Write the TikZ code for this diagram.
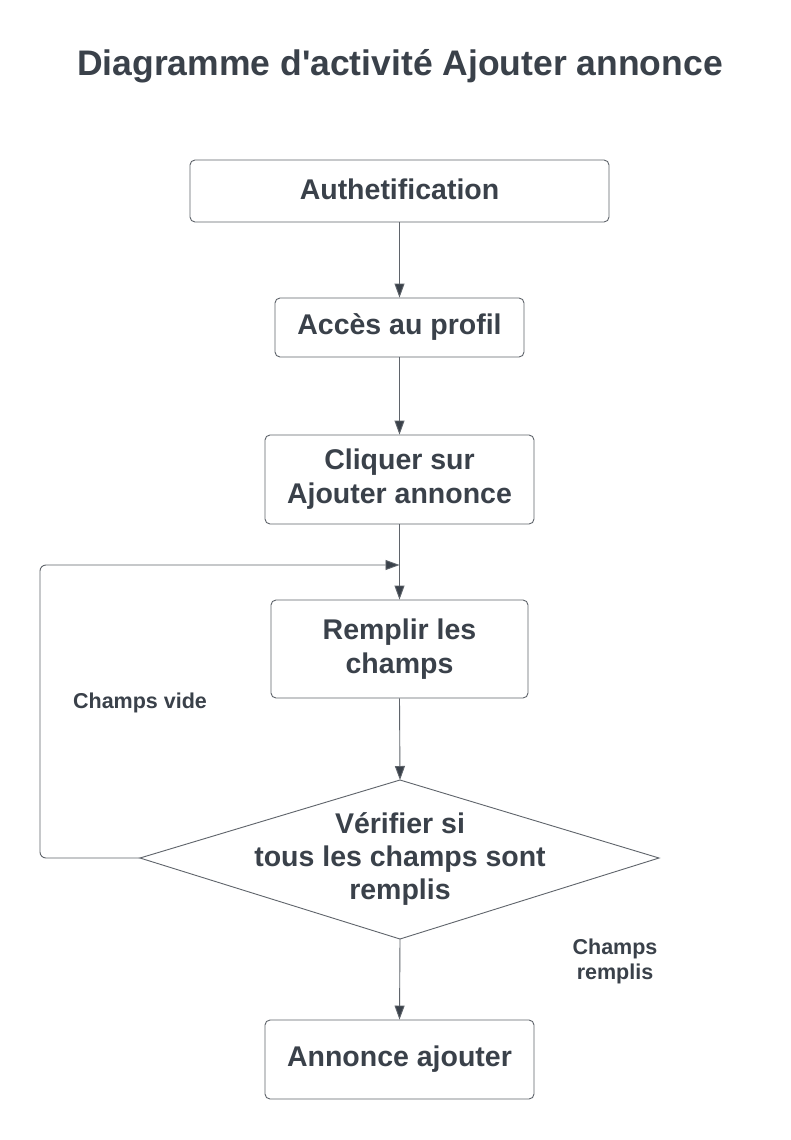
\documentclass[tikz,border=0pt]{standalone}
\usepackage{fontspec}
\setmainfont{Liberation Sans}
\usetikzlibrary{arrows.meta}
\definecolor{txt}{HTML}{3A414A}
\definecolor{ln}{HTML}{5F646B}
\tikzset{
  act/.style={draw=ln, line width=0.9pt, rounded corners=5pt, fill=white, text=txt, font=\bfseries\fontsize{28.5}{34}\selectfont, align=center, inner sep=0pt},
  conn/.style={draw=ln, line width=0.9pt, -{Triangle[length=14pt,width=10pt,fill=txt]}},
  lbl/.style={text=txt, font=\bfseries\fontsize{21.5}{25}\selectfont, align=center},
}
\begin{document}
\begin{tikzpicture}[x=1pt,y=-1pt]
\useasboundingbox (0,0) rectangle (790,1140);
\fill[white] (0,0) rectangle (790,1140);
\node[text=txt, font=\bfseries\fontsize{35.5}{40}\selectfont] (title) at (400,66) {Diagramme d\textquotesingle activité Ajouter annonce};
\node[act, minimum width=419pt, minimum height=62pt] (auth) at (399.5,191) {\raisebox{3pt}{Authetification}};
\node[act, minimum width=249pt, minimum height=59pt] (acces) at (399.5,327.5) {\raisebox{1.5pt}{Accès au profil}};
\node[act, minimum width=269pt, minimum height=89pt] (cliq) at (399.5,479.5) {Cliquer sur\\Ajouter annonce};
\node[act, minimum width=257pt, minimum height=98pt] (rempl) at (399.5,649) {Remplir les\\champs};
\coordinate (vtop) at (400,780);
\coordinate (vleft) at (140,858);
\coordinate (vright) at (659,858);
\coordinate (vbot) at (400,939);
\draw[ln, line width=0.9pt, fill=white] (vtop) -- (vright) -- (vbot) -- (vleft) -- cycle;
\node[text=txt, font=\bfseries\fontsize{28.5}{33}\selectfont, align=center] (verif) at (400,859) {Vérifier si\\tous les champs sont\\remplis};
\node[act, minimum width=269pt, minimum height=79pt] (fin) at (399.5,1059.5) {Annonce ajouter};
\coordinate (loopA) at (40,858);
\coordinate (loopB) at (40,565);
\coordinate (join) at (399.5,565);
\draw[conn] (auth.south) -- (acces.north);
\draw[conn] (acces.south) -- (cliq.north);
\draw[conn] (cliq.south) -- (rempl.north);
\draw[conn] (rempl.south) -- (vtop);
\draw[conn] (vbot) -- (fin.north);
\draw[conn, rounded corners=6pt] (vleft) -- (loopA) -- (loopB) -- (join);
\node[lbl] (vide) at (140,703) {Champs vide};
\node[lbl] (remplis) at (615,961) {Champs\\remplis};
\end{tikzpicture}
\end{document}
